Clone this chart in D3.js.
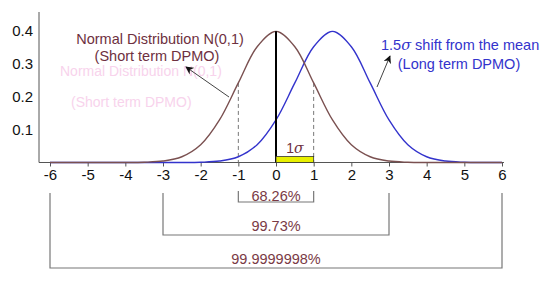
<!DOCTYPE html>
<html><head><meta charset="utf-8">
<script src="https://cdn.jsdelivr.net/npm/d3@7/dist/d3.min.js"></script>
<style>body{margin:0;background:#fff}svg{display:block;font-family:"Liberation Sans",Arial,sans-serif}</style>
</head><body><svg id="c" width="550" height="287"></svg>
<script>
// sample points along the sigma axis
const xs = [-6,-5.5,-5,-4.5,-4,-3.5,-3,-2.5,-2,-1.5,-1,-0.5,0,0.5,1,1.5,2,2.5,3,3.5,4,4.5,5,5.5,6];
// short term (N(0,1)) density values
const shortTerm = [0,0,0,0,0.0001,0.0009,0.0044,0.0175,0.0540,0.1295,0.2420,0.3521,0.3989,0.3521,0.2420,0.1295,0.0540,0.0175,0.0044,0.0009,0.0001,0,0,0,0];
// long term (1.5 sigma shift) density values
const longTerm = [0,0,0,0,0,0,0,0.0001,0.0009,0.0044,0.0175,0.0540,0.1295,0.2420,0.3521,0.3989,0.3521,0.2420,0.1295,0.0540,0.0175,0.0044,0.0009,0.0001,0];
const xTicks = [-6,-5,-4,-3,-2,-1,0,1,2,3,4,5,6];
const yTicks = [0.1,0.2,0.3,0.4];
const peak = 0.3989, oneSigmaPdf = 0.2420;
const brackets = [
  {from:-1, to:1, label:"68.26%"},
  {from:-3, to:3, label:"99.73%"},
  {from:-6, to:6, label:"99.9999998%"}
];

const svg = d3.select("#c");
const x = d3.scaleLinear().domain([-6,6]).range([50,502]);
const y = d3.scaleLinear().domain([0,0.4]).range([162.5,31]);
const maroon = "#6e3040", gray = "#777", blue = "#3333cc";

svg.append("defs").append("marker").attr("id","ah").attr("viewBox","0 0 10 10")
  .attr("refX",9).attr("refY",5).attr("markerWidth",8).attr("markerHeight",8).attr("orient","auto-start-reverse")
  .append("path").attr("d","M0,0 L10,5 L0,10 L3,5 z").attr("fill","#111");

// ghost texts (faint)
const ghost = svg.append("g").attr("fill","#f8d3ec").attr("font-size",14);
ghost.append("text").attr("x",60).attr("y",76).text("Normal Distribution N(0,1)");
ghost.append("text").attr("x",71).attr("y",107).text("(Short term DPMO)");

// axes
const yAxis = svg.append("g").attr("transform","translate(39,0)")
  .call(d3.axisLeft(y).tickValues(yTicks).tickSize(0).tickPadding(6).tickFormat(d3.format(".1f")));
yAxis.select(".domain").attr("d","M0,12V162.5").attr("stroke","#555");
yAxis.selectAll("text").attr("font-size",15).attr("fill","#111").attr("font-family","Liberation Sans, Arial");

const xAxis = svg.append("g").attr("transform","translate(0,162.5)")
  .call(d3.axisBottom(x).tickValues(xTicks).tickSize(4).tickPadding(3).tickFormat(d3.format("d")));
xAxis.select(".domain").attr("d","M39,0H504").attr("stroke","#555");
xAxis.selectAll(".tick line").attr("stroke","#555");
xAxis.selectAll("text").attr("font-size",15).attr("fill","#111").attr("font-family","Liberation Sans, Arial")
  .text(d => d<0 ? "-"+Math.abs(d) : d);

// dashed 1 sigma lines
[-1,1].forEach(v=>{
  svg.append("line").attr("x1",x(v)).attr("x2",x(v)).attr("y1",y(oneSigmaPdf)).attr("y2",y(0))
    .attr("stroke",gray).attr("stroke-dasharray","4,3");
});

// curves
const line = d3.line().x((d,i)=>x(xs[i])).y(d=>y(d)).curve(d3.curveCatmullRom);
svg.append("path").datum(longTerm).attr("d",line).attr("fill","none").attr("stroke",blue).attr("stroke-width",1.4);
svg.append("path").datum(shortTerm).attr("d",line).attr("fill","none").attr("stroke","#7a5050").attr("stroke-width",1.4);

// mean line
svg.append("line").attr("x1",x(0)).attr("x2",x(0)).attr("y1",y(peak)).attr("y2",y(0)).attr("stroke","#000").attr("stroke-width",2);

// 1 sigma box
svg.append("rect").attr("x",x(0)).attr("y",y(0)-6).attr("width",x(1)-x(0)).attr("height",6)
  .attr("fill","#e8f000").attr("stroke","#333").attr("stroke-width",0.8);
const sig = svg.append("text").attr("x",(x(0)+x(1))/2).attr("y",y(0)-10).attr("text-anchor","middle")
  .attr("font-size",14).attr("fill",maroon);
sig.append("tspan").text("1");
sig.append("tspan").attr("font-style","italic").attr("font-family","DejaVu Serif, serif").text("σ");

// brackets
const bY = [202,235,268], topY = [191,193,193], tY = [201,231,264];
brackets.forEach((b,i)=>{
  svg.append("path").attr("d",`M${x(b.from)},${topY[i]}V${bY[i]}H${x(b.to)}V${topY[i]}`)
    .attr("fill","none").attr("stroke",gray).attr("stroke-width",1.2);
  svg.append("text").attr("x",x(0)).attr("y",tY[i]).attr("text-anchor","middle").attr("font-size",14.5)
    .attr("fill","#7a3a45").text(b.label);
});

// annotations
const a1 = svg.append("g").attr("fill",maroon).attr("font-size",14.5).attr("text-anchor","middle");
a1.append("text").attr("x",160).attr("y",44).text("Normal Distribution N(0,1)");
a1.append("text").attr("x",157).attr("y",61).text("(Short term DPMO)");
svg.append("line").attr("x1",229).attr("y1",97).attr("x2",186).attr("y2",67)
  .attr("stroke","#444").attr("stroke-width",1).attr("marker-end","url(#ah)");

const a2 = svg.append("g").attr("fill",blue).attr("font-size",14.5);
const t1 = a2.append("text").attr("x",381).attr("y",50);
t1.append("tspan").text("1.5");
t1.append("tspan").attr("font-style","italic").attr("font-family","DejaVu Serif, serif").text("σ");
t1.append("tspan").text(" shift from the mean");
a2.append("text").attr("x",459).attr("y",69).attr("text-anchor","middle").text("(Long term DPMO)");
svg.append("line").attr("x1",377).attr("y1",87).attr("x2",390).attr("y2",56)
  .attr("stroke","#444").attr("stroke-width",1).attr("marker-end","url(#ah)");
</script></body></html>
